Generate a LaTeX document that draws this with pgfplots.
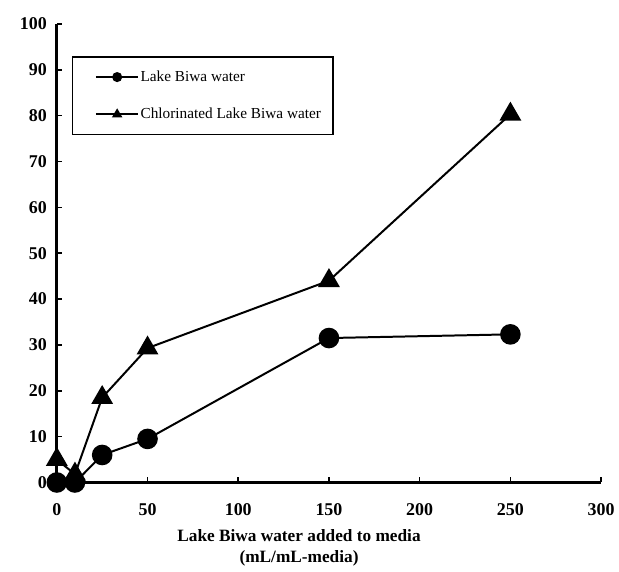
\documentclass[border=0pt]{standalone}
\usepackage{fontspec}
\setmainfont{Liberation Serif}
\usepackage{pgfplots}
\pgfplotsset{compat=1.18}
\begin{document}
\begin{tikzpicture}
\begin{axis}[
  at={(0,0)}, anchor=south west,
  scale only axis, width=409.5pt, height=345pt,
  xmin=0, xmax=300, ymin=0, ymax=100,
  xtick={0,50,...,300}, ytick={0,10,...,100},
  axis lines=left,
  axis line style={-, line width=2pt},
  tick align=inside, major tick length=4pt,
  tick style={line width=1.2pt, black},
  /pgf/number format/assume math mode=true,
  tick label style={font=\bfseries\fontsize{13.5}{15}\selectfont},
  xticklabel style={yshift=-12pt},
  yticklabel style={xshift=-4pt},
  xlabel={Lake Biwa water added to media\\(mL/mL-media)},
  xlabel style={at={(axis description cs:0.445,0)}, anchor=north, yshift=-32pt, align=center, font=\bfseries\fontsize{13}{16}\selectfont},
  clip=false,
  legend style={at={(0.027,0.93)}, anchor=north west, draw=black, line width=1.2pt,
    font=\fontsize{11.5}{14}\selectfont, inner xsep=8pt, inner ysep=8.5pt,
    row sep=14.5pt, cells={anchor=west}, nodes={inner xsep=1pt}},
  legend image code/.code={
    \path (0pt,0pt);
    \draw[#1, line width=1.2pt] (9pt,0pt) -- (41pt,0pt);
    \draw[#1, mark size=3pt] plot coordinates {(25pt,0pt)};
  },
]
\addplot[black, line width=1.5pt, mark=*, mark size=7pt, mark options={fill=black}]
  coordinates {(0,0) (10,0) (25,6) (50,9.5) (150,31.5) (250,32.3)};
\addlegendentry{Lake Biwa water}
\addplot[black, line width=1.5pt, mark=triangle*, mark size=8pt, mark options={fill=black}]
  coordinates {(0,5) (10,1.8) (25,18.5) (50,29.3) (150,44) (250,80.3)};
\addlegendentry{Chlorinated Lake Biwa water}
\end{axis}
\path (-42.75pt,-62.25pt) rectangle (421.5pt,363pt);
\end{tikzpicture}
\end{document}
